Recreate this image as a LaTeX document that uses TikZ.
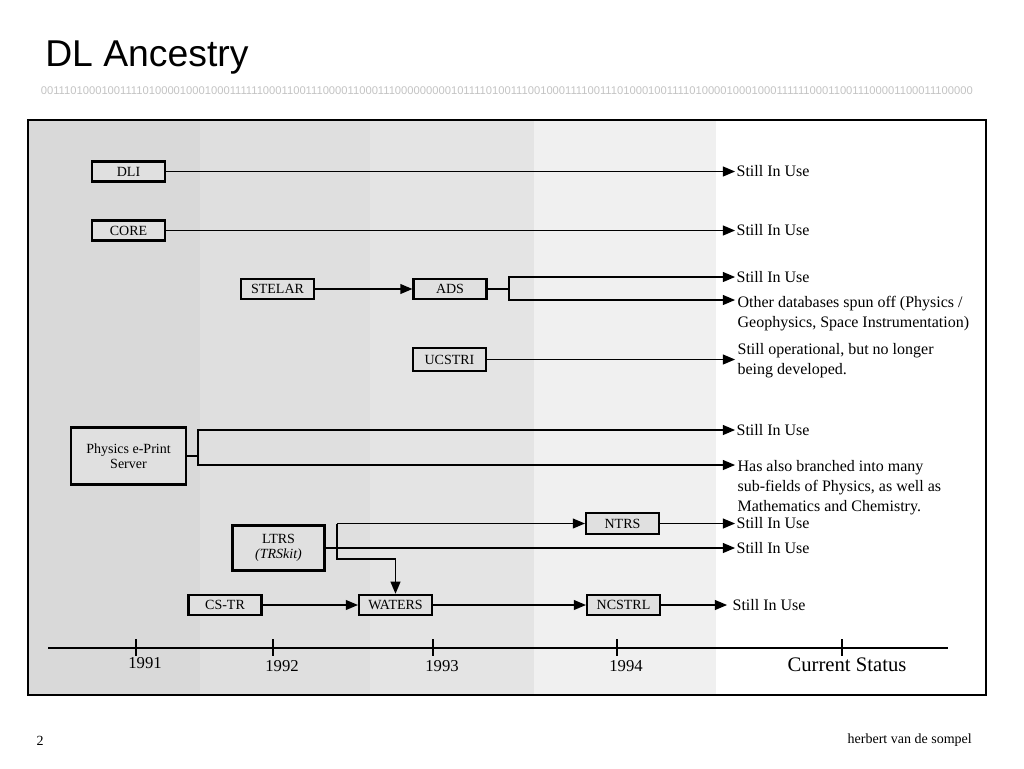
\documentclass[tikz,border=0pt]{standalone}
\usepackage{fontspec}
\setmainfont{Liberation Serif}
\newfontfamily\titlefont{Liberation Sans}
\usepackage{xcolor}
\usepackage{tikz}
\usetikzlibrary{arrows}
\usetikzlibrary{positioning}
\definecolor{band_a}{RGB}{217,217,217}
\definecolor{band_b}{RGB}{223,223,223}
\definecolor{band_c}{RGB}{228,228,228}
\definecolor{band_d}{RGB}{240,240,240}
\definecolor{box_fill}{RGB}{224,224,224}
\definecolor{bit_gray}{RGB}{195,195,195}
\tikzset{
    sys_node/.style = {rectangle, draw=black, line width=1.9pt, fill=box_fill, minimum width=54.5pt, minimum height=15pt, inner sep=1pt, align=center, font=\fontsize{10.5}{11.5}\selectfont},
    status_text/.style = {align=left, inner sep=1pt, font=\fontsize{12}{15}\selectfont},
    year_label/.style = {inner sep=0pt, font=\fontsize{12.5}{14}\selectfont},
    flow/.style = {line width=1.1pt}
}

\begin{document}
\begin{tikzpicture}[x=0.75pt, y=-0.75pt, >=triangle 45]
    \useasboundingbox (0,0) rectangle (1024,768);
    % title and bit string
    \node [anchor=base west, inner sep=0pt, font=\titlefont\fontsize{28}{30}\selectfont] (title) at (45,66) {DL Ancestry};
    \node [inner sep=0pt, text=bit_gray, font=\titlefont\fontsize{8.4}{9}\selectfont] (bits) at (507,91)
        {00111010001001111010000100010001111110001100111000011000111000000000101111010011100100011110011101000100111101000010001000111111000110011100001100011100000};
    % year bands
    \fill [band_a] (28,120) rectangle (200,695);
    \fill [band_b] (200,120) rectangle (370,695);
    \fill [band_c] (370,120) rectangle (534,695);
    \fill [band_d] (534,120) rectangle (716,695);
    \fill [white] (716,120) rectangle (986,695);
    \draw [line width=2.2pt] (28,120) rectangle (986,695);
    % systems
    \node [sys_node] (dli) at (128.5,171.5) {DLI};
    \node [sys_node] (core) at (128.5,230.5) {CORE};
    \node [sys_node] (stelar) at (277.5,289) {STELAR};
    \node [sys_node] (ads) at (450,289) {ADS};
    \node [sys_node, minimum height=17pt] (ucstri) at (449.5,359.5) {UCSTRI};
    \node [sys_node, minimum width=86pt, minimum height=43pt] (physics) at (128.5,456) {Physics e-Print\\Server};
    \node [sys_node, minimum width=69pt, minimum height=34pt] (ltrs) at (278.5,548) {LTRS\\\textit{(TRSkit)}};
    \node [sys_node] (cstr) at (225,605) {CS-TR};
    \node [sys_node] (waters) at (395.5,605) {WATERS};
    \node [sys_node, minimum height=16pt] (ntrs) at (622.5,523.5) {NTRS};
    \node [sys_node] (ncstrl) at (623.5,605) {NCSTRL};
    % ends of the lines
    \coordinate (e_dli) at (735,171.5);
    \coordinate (e_core) at (735,230.5);
    \coordinate (e_ads_a) at (735,277);
    \coordinate (e_ads_b) at (735,300);
    \coordinate (e_ucstri) at (735,359.5);
    \coordinate (e_phys_a) at (735,430);
    \coordinate (e_phys_b) at (735,465);
    \coordinate (e_ntrs) at (735,523.5);
    \coordinate (e_ltrs) at (735,548);
    \coordinate (e_ncstrl) at (727,605);
    \coordinate (ads_split) at (509,289);
    \coordinate (phys_split) at (198,456);
    \coordinate (ltrs_top) at (337,523.5);
    \coordinate (ltrs_low) at (337,559);
    % current status
    \node [status_text, right=0pt of e_dli] (s_dli) {Still In Use};
    \node [status_text, right=0pt of e_core] (s_core) {Still In Use};
    \node [status_text, right=0pt of e_ads_a] (s_ads_a) {Still In Use};
    \node [status_text, anchor=north west] (s_ads_b) at (736,295) {Other databases spun off (Physics /\\Geophysics, Space Instrumentation)};
    \node [status_text, anchor=north west] (s_ucstri) at (736,342) {Still operational, but no longer\\being developed.};
    \node [status_text, right=0pt of e_phys_a] (s_phys_a) {Still In Use};
    \node [status_text, anchor=north west] (s_phys_b) at (736,459) {Has also branched into many\\sub-fields of Physics, as well as\\Mathematics and Chemistry.};
    \node [status_text, right=0pt of e_ntrs] (s_ntrs) {Still In Use};
    \node [status_text, right=0pt of e_ltrs] (s_ltrs) {Still In Use};
    \node [status_text, right=3pt of e_ncstrl] (s_ncstrl) {Still In Use};
    % connectors
    \draw [flow, ->] (dli) -- (e_dli);
    \draw [flow, ->] (core) -- (e_core);
    \draw [flow, ->] (stelar) -- (ads);
    \draw [flow] (ads) -- (ads_split);
    \draw [flow, ->] (ads_split) |- (e_ads_a);
    \draw [flow, ->] (ads_split) |- (e_ads_b);
    \draw [flow, ->] (ucstri) -- (e_ucstri);
    \draw [flow] (physics) -- (phys_split);
    \draw [flow, ->] (phys_split) |- (e_phys_a);
    \draw [flow, ->] (phys_split) |- (e_phys_b);
    \draw [flow, ->] (ltrs) -- (e_ltrs);
    \draw [flow, ->] (ltrs_top) -- (ntrs);
    \draw [flow, ->] (ltrs_top) -- (ltrs_low) -| (waters.north);
    \draw [flow, ->] (ntrs) -- (e_ntrs);
    \draw [flow, ->] (cstr) -- (waters);
    \draw [flow, ->] (waters) -- (ncstrl);
    \draw [flow, ->] (ncstrl) -- (e_ncstrl);
    % time axis
    \coordinate (axis_start) at (48,648);
    \coordinate (axis_end) at (948,648);
    \draw [line width=1.4pt] (axis_start) -- (axis_end);
    \draw [line width=0.8pt] (136,639) -- (136,656) (273,639) -- (273,656) (433,639) -- (433,656)
        (617,639) -- (617,656) (842,639) -- (842,656);
    \node [year_label] (y1991) at (145,663) {1991};
    \node [year_label] (y1992) at (282,666) {1992};
    \node [year_label] (y1993) at (442,666) {1993};
    \node [year_label] (y1994) at (626,666) {1994};
    \node [year_label, font=\fontsize{15.5}{17}\selectfont] (current) at (847,665) {Current Status};
    % footer
    \node [inner sep=0pt, font=\fontsize{10.5}{12}\selectfont] (page) at (40,741) {2};
    \node [inner sep=0pt, anchor=east, font=\fontsize{10.5}{12}\selectfont] (author) at (972,740) {herbert van de sompel};
\end{tikzpicture}
\end{document}
